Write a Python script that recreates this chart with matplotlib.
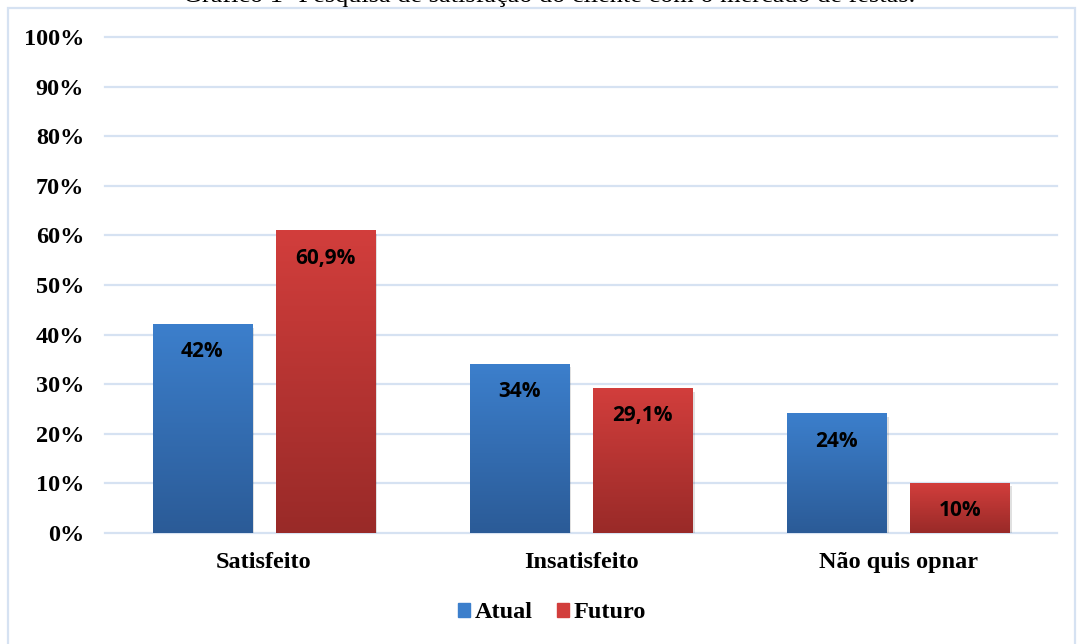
import numpy as np
import matplotlib
matplotlib.use("Agg")
import matplotlib.pyplot as plt
from matplotlib.colors import LinearSegmentedColormap
from matplotlib.patches import Rectangle

# data
categories = ["Satisfeito", "Insatisfeito", "Não quis opnar"]
atual = [0.42, 0.34, 0.24]
futuro = [0.609, 0.291, 0.10]
atual_labels = ["42%", "34%", "24%"]
futuro_labels = ["60,9%", "29,1%", "10%"]
series = ["Atual", "Futuro"]
yticks = [i / 10 for i in range(11)]
ytick_labels = [f"{i * 10}%" for i in range(11)]

BLUE_TOP, BLUE_BOT = "#3c7fcc", "#2b5b97"
RED_TOP, RED_BOT = "#d23e3c", "#992a28"
GRID = "#d6e2f2"
SERIF = {"family": "Liberation Serif", "weight": "bold", "size": 17.5}

fig = plt.figure(figsize=(10.77, 6.44), dpi=100)
ax = fig.add_axes([105 / 1077, 1 - 533 / 644, 952 / 1077, (533 - 37) / 644])

x = np.arange(len(categories))
w = 0.312
off = 0.194


def grad_bars(xs, vals, top, bot):
    cmap = LinearSegmentedColormap.from_list("g", [bot, top])
    grad = np.linspace(1, 0, 256).reshape(-1, 1)
    for xc, v in zip(xs, vals):
        # soft shadow
        ax.add_patch(Rectangle((xc - w / 2 + 0.008, -0.006), w, v, color="#000000",
                               alpha=0.12, lw=0, zorder=2))
        ax.imshow(grad, extent=[xc - w / 2, xc + w / 2, 0, v], aspect="auto",
                  cmap=cmap, vmin=0, vmax=1, zorder=3, interpolation="bilinear")


grad_bars(x - off, atual, BLUE_TOP, BLUE_BOT)
grad_bars(x + off, futuro, RED_TOP, RED_BOT)

for xs, vals, labs in [(x - off, atual, atual_labels), (x + off, futuro, futuro_labels)]:
    for xc, v, lab in zip(xs, vals, labs):
        ax.annotate(lab, (xc, v), xytext=(0, -19.5), textcoords="offset points",
                    ha="center", va="center", fontsize=15, fontweight="bold",
                    family="Open Sans", color="black", zorder=5)

ax.set_xlim(-0.5, 2.5)
ax.set_ylim(0, 1.0)
ax.set_yticks(yticks)
ax.set_yticklabels(ytick_labels, fontdict=SERIF)
ax.set_xticks(x)
ax.set_xticklabels(categories, fontdict=SERIF)
ax.tick_params(axis="y", length=0, pad=15)
ax.tick_params(axis="x", length=0, pad=14)
for s in ax.spines.values():
    s.set_visible(False)
ax.set_axisbelow(True)
for yv in yticks:
    ax.axhline(yv, color=GRID, lw=1.6, zorder=1, clip_on=False)

# legend
h = [Rectangle((0, 0), 1, 1, color=BLUE_TOP), Rectangle((0, 0), 1, 1, color=RED_TOP)]
fig.legend(h, series, loc="center", bbox_to_anchor=(552 / 1077, 1 - 613 / 644), ncol=2,
           frameon=False, prop=SERIF,
           handlelength=0.5, handleheight=0.5, handletextpad=0.2, columnspacing=1.0)

# frame and clipped title
fig.patches.append(Rectangle((8 / 1077, -0.1), 1067 / 1077, 1.1 - 8 / 644, transform=fig.transFigure,
                             fill=False, edgecolor=GRID, lw=1.6))
fig.text(549 / 1077, 1 - 2 / 644, "Gráfico 1- Pesquisa de satisfação do cliente com o mercado de festas.",
         ha="center", va="baseline", family="Liberation Serif", fontsize=18.9)

fig.savefig("out.png", dpi=100)
